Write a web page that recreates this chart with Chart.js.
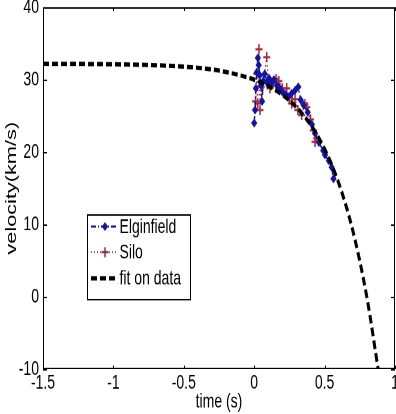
<!DOCTYPE html>
<html>
<head>
<meta charset="utf-8">
<script src="https://cdn.jsdelivr.net/npm/chart.js@4.4.1/dist/chart.umd.min.js"></script>
<style>
  html, body { margin: 0; padding: 0; background: #fff; }
  #wrap { width: 396px; height: 414px; overflow: hidden; }
  /* the original figure is stretched vertically, so is this one */
  #plot { transform: scaleY(1.4476); transform-origin: 0 0; }
</style>
</head>
<body>
<div id="wrap"><canvas id="plot" width="396" height="286"></canvas></div>
<script>
// ── data ──
const elgTime = [0.000, 0.006, 0.012, 0.018, 0.026, 0.032, 0.040, 0.048, 0.056, 0.064, 0.075, 0.090,
  0.105, 0.120, 0.140, 0.160, 0.180, 0.200, 0.220, 0.240, 0.266, 0.290, 0.313, 0.330, 0.350,
  0.380, 0.410, 0.432, 0.460, 0.490, 0.503, 0.530, 0.550, 0.563];
const elgVel = [24.0, 25.8, 28.8, 31.0, 33.0, 32.0, 30.6, 29.2, 27.0, 29.8, 30.8, 29.6,
  30.2, 29.5, 30.0, 29.2, 28.9, 28.3, 28.0, 27.6, 28.1, 28.5, 29.0, 27.2, 26.5,
  25.5, 23.8, 22.6, 21.3, 20.2, 19.6, 18.8, 17.9, 16.3];

const siloTime = [0.010, 0.018, 0.025, 0.034, 0.041, 0.050, 0.065, 0.089, 0.100, 0.112, 0.135, 0.155,
  0.175, 0.200, 0.231, 0.250, 0.266, 0.290, 0.310, 0.337, 0.360, 0.373, 0.400, 0.420, 0.432, 0.444];
const siloVel = [27.0, 30.8, 26.7, 34.2, 25.8, 29.0, 29.9, 33.1, 30.0, 28.8, 29.6, 30.1,
  29.8, 28.8, 28.8, 27.5, 26.7, 27.3, 25.8, 25.1, 26.6, 26.2, 24.5, 23.0, 21.4, 21.9];

const fitTime = [-1.5, -1.25, -1.0, -0.75, -0.5, -0.25, 0, 0.1, 0.2, 0.3, 0.4, 0.5, 0.6, 0.7, 0.8, 0.88];
const fitVel = [32.19, 32.17, 32.12, 32.02, 31.79, 31.25, 30.0, 29.12, 27.90, 26.18, 23.78, 20.42,
  15.72, 9.16, -0.04, -9.95];

const xTickValues = [-1.5, -1, -0.5, 0, 0.5, 1];
const yTickValues = [-10, 0, 10, 20, 30, 40];

const legendNames = ['Elginfield', 'Silo', 'fit on data'];

const BLUE = '#1414a6';
const RED = '#a52a40';
const FONT = "'Liberation Sans', Arial, sans-serif";

const toPoints = (xs, ys) => xs.map((x, i) => ({ x, y: ys[i] }));

// box round the axes, with MATLAB style inward ticks
const framePlugin = {
  id: 'frame',
  afterDatasetsDraw(chart) {
    const { ctx, chartArea: a, scales } = chart;
    ctx.save();
    ctx.strokeStyle = '#000';
    ctx.lineWidth = 1;
    ctx.strokeRect(a.left + 0.5, a.top + 0.5, a.right - a.left - 1, a.bottom - a.top - 1);
    ctx.beginPath();
    scales.x.ticks.forEach(t => {
      const px = Math.round(scales.x.getPixelForValue(t.value)) + 0.5;
      ctx.moveTo(px, a.bottom); ctx.lineTo(px, a.bottom - 2.5);
      ctx.moveTo(px, a.top); ctx.lineTo(px, a.top + 2.5);
    });
    scales.y.ticks.forEach(t => {
      const py = Math.round(scales.y.getPixelForValue(t.value)) + 0.5;
      ctx.moveTo(a.left, py); ctx.lineTo(a.left + 4, py);
      ctx.moveTo(a.right, py); ctx.lineTo(a.right - 4, py);
    });
    ctx.stroke();
    ctx.restore();
  }
};

// legend box inside the axes, lower left
const legendPlugin = {
  id: 'boxLegend',
  afterDraw(chart) {
    const { ctx } = chart;
    const box = { x: 87, y: 148, w: 103, h: 58.5 };
    const rows = [156.5, 174.2, 192.2];
    const order = [1, 2, 0]; // dataset index for each legend row
    ctx.save();
    ctx.fillStyle = '#fff';
    ctx.fillRect(box.x, box.y, box.w, box.h);
    ctx.strokeStyle = '#000';
    ctx.lineWidth = 1;
    ctx.strokeRect(box.x + 0.5, box.y + 0.5, box.w, box.h);
    rows.forEach((ry, i) => {
      const ds = chart.data.datasets[order[i]];
      ctx.save();
      ctx.strokeStyle = ds.borderColor;
      ctx.lineWidth = ds.borderWidth;
      ctx.setLineDash(ds.borderDash || []);
      ctx.beginPath();
      ctx.moveTo(91, ry); ctx.lineTo(118, ry);
      ctx.stroke();
      ctx.restore();
      if (ds.pointRadius > 0) {
        ctx.fillStyle = ds.pointBackgroundColor;
        ctx.strokeStyle = ds.pointBorderColor;
        ctx.lineWidth = ds.pointBorderWidth;
        Chart.helpers.drawPoint(ctx, {
          pointStyle: ds.pointStyle, radius: ds.pointRadius, rotation: 0,
          borderWidth: ds.pointBorderWidth
        }, 105, ry);
      }
      ctx.fillStyle = '#000';
      ctx.font = '14px ' + FONT;
      ctx.textBaseline = 'middle';
      ctx.fillText(legendNames[i], 119.5, ry + 0.5);
    });
    ctx.restore();
  }
};

new Chart(document.getElementById('plot'), {
  type: 'line',
  data: {
    datasets: [
      {
        label: 'fit on data',
        data: toPoints(fitTime, fitVel),
        borderColor: '#000',
        borderWidth: 3,
        borderDash: [6, 3],
        pointRadius: 0,
        cubicInterpolationMode: 'monotone',
        fill: false,
      },
      {
        label: 'Elginfield',
        data: toPoints(elgTime, elgVel),
        borderColor: BLUE,
        borderWidth: 1.4,
        borderDash: [5, 2, 1, 2],
        pointStyle: 'rectRot',
        pointRadius: 2.4,
        pointBorderWidth: 1,
        pointBackgroundColor: BLUE,
        pointBorderColor: BLUE,
        fill: false,
      },
      {
        label: 'Silo',
        data: toPoints(siloTime, siloVel),
        borderColor: RED,
        borderWidth: 1.2,
        borderDash: [1, 2],
        pointStyle: 'cross',
        pointRadius: 3.5,
        pointBorderWidth: 1.5,
        pointBackgroundColor: RED,
        pointBorderColor: RED,
        fill: false,
      },
    ],
  },
  options: {
    responsive: false,
    animation: false,
    devicePixelRatio: 2,
    layout: { padding: { top: 5, right: 1, left: 0, bottom: 0 }, autoPadding: false },
    plugins: { legend: { display: false }, tooltip: { enabled: false } },
    scales: {
      x: {
        type: 'linear',
        min: -1.5,
        max: 1,
        afterBuildTicks: s => { s.ticks = xTickValues.map(v => ({ value: v })); },
        afterFit: s => { s.height = 31; s.paddingLeft = 0; s.paddingRight = 0; },
        grid: { display: false, drawTicks: false },
        border: { display: false },
        ticks: { color: '#000', font: { family: FONT, size: 14 }, padding: 1, maxRotation: 0, callback: v => String(v) },
        title: { display: true, text: 'time (s)', color: '#000', font: { family: FONT, size: 14 }, padding: { top: 0, bottom: 0 } },
      },
      y: {
        type: 'linear',
        min: -10,
        max: 40,
        afterBuildTicks: s => { s.ticks = yTickValues.map(v => ({ value: v })); },
        afterFit: s => { s.width = 43; s.paddingTop = 0; s.paddingBottom = 0; },
        grid: { display: false, drawTicks: false },
        border: { display: false },
        ticks: { color: '#000', font: { family: FONT, size: 14 }, padding: 4, callback: v => String(v) },
        title: { display: true, text: 'velocity(km/s)', color: '#000', font: { family: FONT, size: 15 }, padding: { top: 3, bottom: 0 } },
      },
    },
  },
  plugins: [framePlugin, legendPlugin],
});
</script>
</body>
</html>
